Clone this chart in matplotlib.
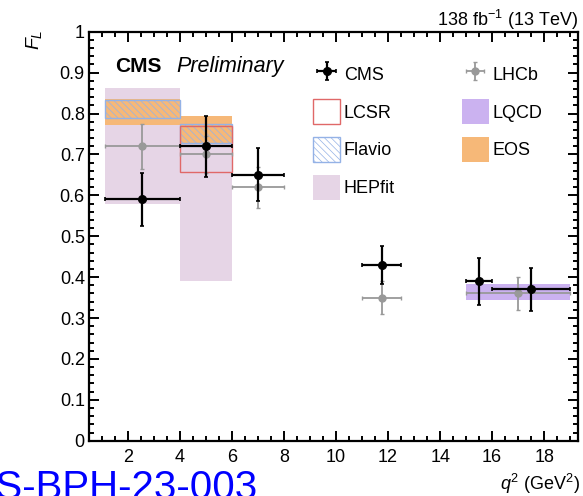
import numpy as np
import matplotlib
matplotlib.use("Agg")
import matplotlib.pyplot as plt
import matplotlib.patches as mpatches
from matplotlib.ticker import MultipleLocator, FuncFormatter

plt.rcParams["font.family"] = ["Liberation Sans", "DejaVu Sans"]
plt.rcParams["mathtext.fontset"] = "custom"
plt.rcParams["mathtext.rm"] = "Liberation Sans"
plt.rcParams["mathtext.it"] = "Liberation Sans:italic"
plt.rcParams["hatch.linewidth"] = 0.5

# CMS measurement (q2 bins)
cms_lo = [1.1, 4.0, 6.0, 11.0, 15.0, 16.0]
cms_hi = [4.0, 6.0, 8.0, 12.5, 16.0, 19.0]
cms_fl = [0.59, 0.72, 0.65, 0.43, 0.39, 0.37]
cms_err = [0.065, 0.074, 0.065, 0.046, 0.057, 0.053]

# LHCb measurement
lhcb_lo = [1.1, 4.0, 6.0, 11.0, 15.0]
lhcb_hi = [4.0, 6.0, 8.0, 12.5, 19.0]
lhcb_fl = [0.72, 0.70, 0.62, 0.35, 0.36]
lhcb_err = [0.055, 0.045, 0.05, 0.04, 0.04]

# theory predictions: (bin low, bin high, F_L low, F_L high)
hepfit_bins = [(1.1, 4.0, 0.58, 0.862), (4.0, 6.0, 0.39, 0.79)]
eos_bins = [(1.1, 4.0, 0.772, 0.835), (4.0, 6.0, 0.725, 0.794)]
flavio_bins = [(1.1, 4.0, 0.789, 0.833), (4.0, 6.0, 0.727, 0.774)]
lcsr_bins = [(4.0, 6.0, 0.656, 0.770)]
lqcd_bins = [(15.0, 19.0, 0.343, 0.384)]

hep_col = "#e6d5e6"
eos_col = "#f6b878"
flav_col = "#94b2e6"
lcsr_col = "#e06868"
lqcd_col = "#cbb2f0"
lhcb_col = "#999999"

fig = plt.figure(figsize=(5.83, 4.96), dpi=100)
ax = fig.add_axes([0.1527, 0.1115, 0.8387, 0.8245])


def draw_boxes(bins, **kw):
    for lo, hi, y0, y1 in bins:
        ax.add_patch(mpatches.Rectangle((lo, y0), hi - lo, y1 - y0, **kw))


draw_boxes(hepfit_bins, facecolor=hep_col, edgecolor="none", zorder=1)
draw_boxes(eos_bins, facecolor=eos_col, edgecolor="none", zorder=2)
draw_boxes(flavio_bins, facecolor="none", edgecolor=flav_col, hatch="\\\\\\\\\\",
           linewidth=1.0, zorder=3)
draw_boxes(lcsr_bins, facecolor="none", edgecolor=lcsr_col, linewidth=1.0, zorder=3)
draw_boxes(lqcd_bins, facecolor=lqcd_col, edgecolor="none", zorder=2)

# LHCb points
lx = (np.array(lhcb_lo) + np.array(lhcb_hi)) / 2
lxe = (np.array(lhcb_hi) - np.array(lhcb_lo)) / 2
lhcb = ax.errorbar(lx, lhcb_fl, xerr=lxe, yerr=lhcb_err, fmt="o", color=lhcb_col,
                   ms=5, elinewidth=1.3, capsize=1.5, capthick=1.0, zorder=4,
                   label="LHCb")

# CMS points
cx = (np.array(cms_lo) + np.array(cms_hi)) / 2
cxe = (np.array(cms_hi) - np.array(cms_lo)) / 2
cms = ax.errorbar(cx, cms_fl, xerr=cxe, yerr=cms_err, fmt="o", color="black",
                  ms=5.5, elinewidth=1.6, capsize=1.5, capthick=1.2, zorder=5,
                  label="CMS")

ax.set_xlim(0.5, 19.3)
ax.set_ylim(0, 1)
ax.xaxis.set_major_locator(MultipleLocator(2))
ax.xaxis.set_minor_locator(MultipleLocator(0.5))
ax.yaxis.set_major_locator(MultipleLocator(0.1))
ax.yaxis.set_minor_locator(MultipleLocator(0.02))
ax.yaxis.set_major_formatter(FuncFormatter(lambda v, p: f"{v:g}"))
ax.tick_params(which="both", direction="in", top=True, right=True, width=1.4,
               labelsize=13)
ax.tick_params(which="major", length=7)
ax.tick_params(which="minor", length=3.5)
ax.tick_params(axis="x", pad=6)
ax.tick_params(axis="y", pad=3)
for s in ax.spines.values():
    s.set_linewidth(1.6)

# legend
h_lcsr = mpatches.Patch(facecolor="white", edgecolor=lcsr_col, label="LCSR")
h_flav = mpatches.Patch(facecolor="white", edgecolor=flav_col, hatch="\\\\\\\\\\",
                        label="Flavio")
h_hep = mpatches.Patch(facecolor=hep_col, edgecolor="none", label="HEPfit")
h_lqcd = mpatches.Patch(facecolor=lqcd_col, edgecolor="none", label="LQCD")
h_eos = mpatches.Patch(facecolor=eos_col, edgecolor="none", label="EOS")
ax.legend(handles=[cms, h_lcsr, h_flav, h_hep, lhcb, h_lqcd, h_eos], ncol=2,
          loc="upper left", bbox_to_anchor=(0.458, 0.927), frameon=False,
          fontsize=13, handlelength=1.5, handleheight=1.76, handletextpad=0.2,
          labelspacing=0.7, columnspacing=3.7, borderpad=0, borderaxespad=0)

ax.text(0.053, 0.902, "CMS", transform=ax.transAxes, fontsize=15,
        fontweight="bold", va="baseline")
ax.text(0.178, 0.902, "Preliminary", transform=ax.transAxes, fontsize=15.5,
        style="italic", va="baseline")

fig.text(0.991, 0.947, r"138 fb$^{-1}$ (13 TeV)", ha="right", va="baseline",
         fontsize=13)
fig.text(0.058, 0.94, r"$F_{L}$", rotation=90, ha="center", va="top",
         fontsize=14)
fig.text(0.995, 0.012, r"$q^{2}$ (GeV$^{2}$)", ha="right", va="baseline",
         fontsize=13)
fig.text(257 / 583, -0.006, "CMS-PAS-BPH-23-003", ha="right", va="baseline",
         fontsize=29, color="#0000ff")

fig.savefig("out.png", dpi=100)
